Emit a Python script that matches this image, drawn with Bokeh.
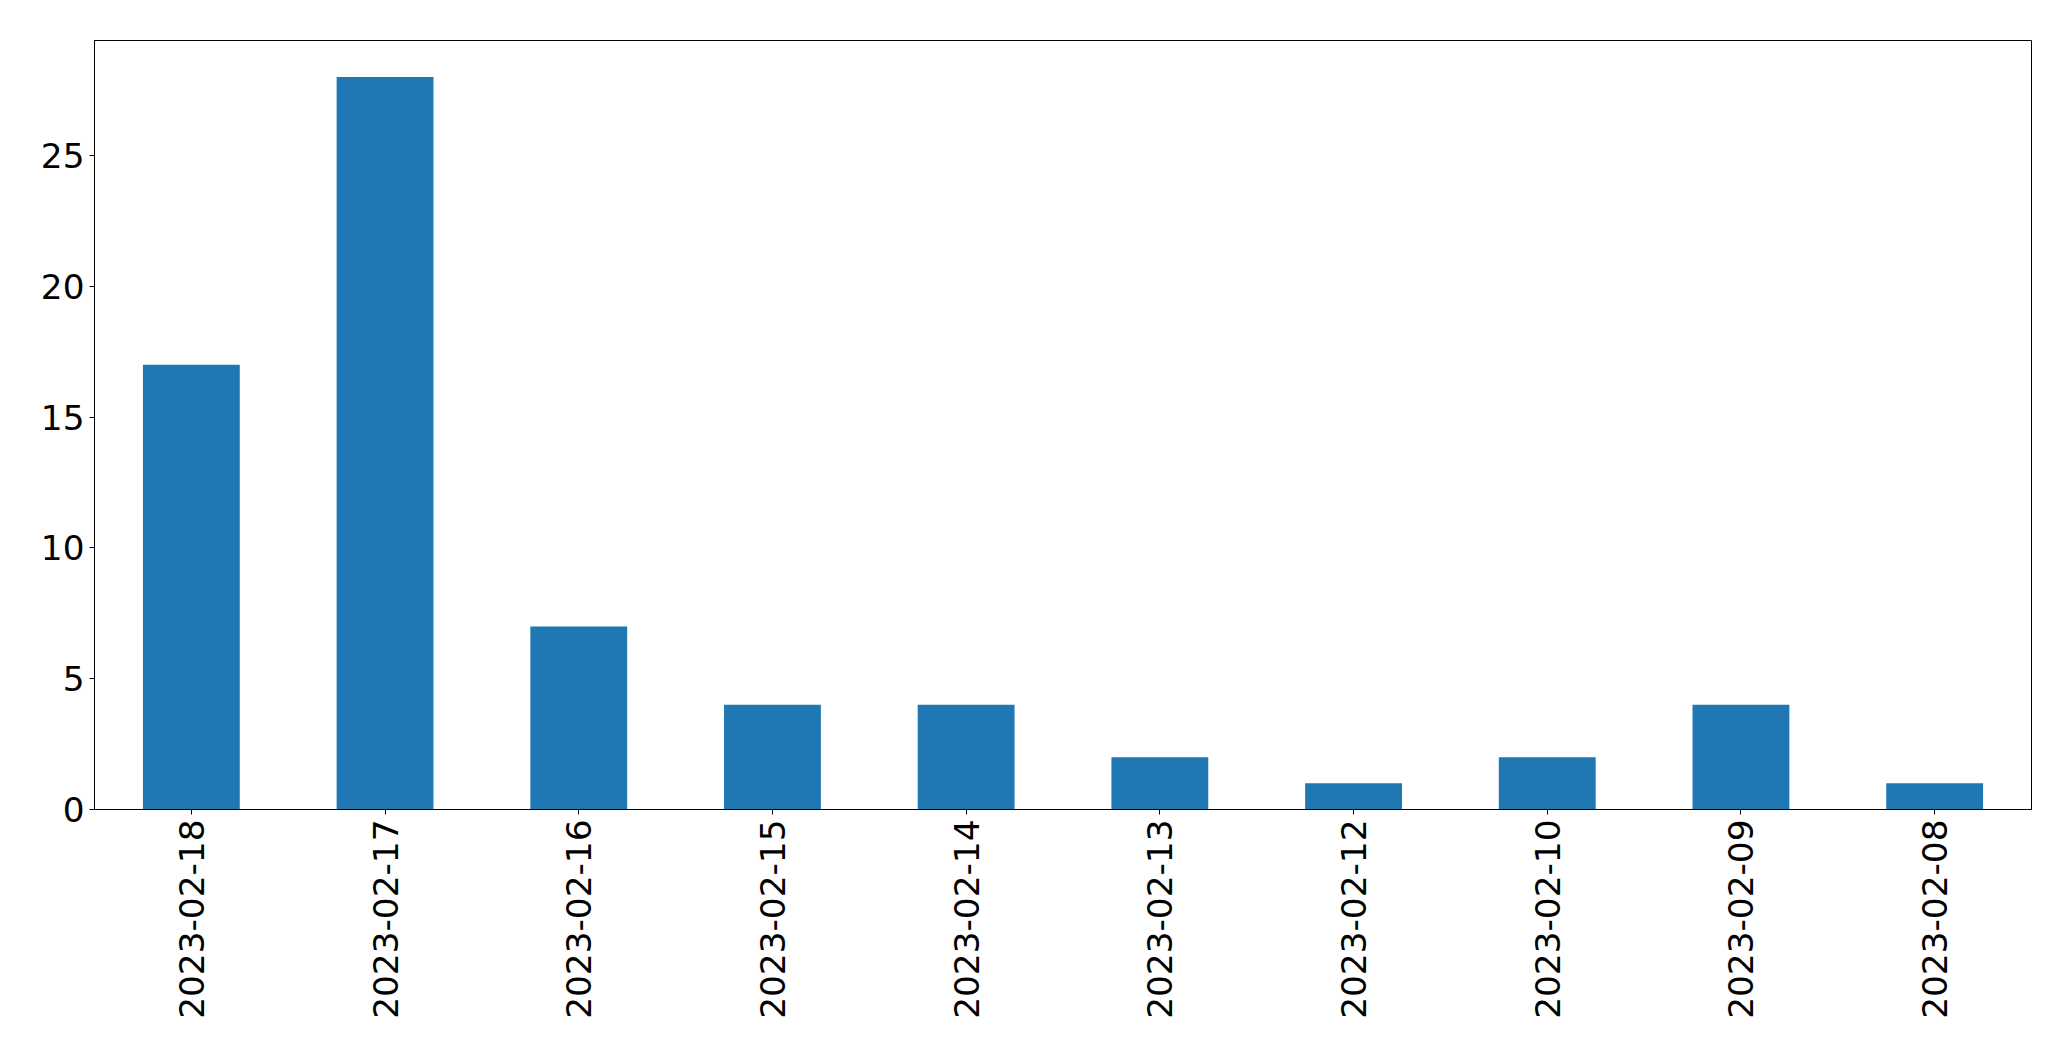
import math
from bokeh.plotting import figure
from bokeh.models import FactorRange, Range1d, FixedTicker, ColumnDataSource
from bokeh.embed import file_html
from bokeh.resources import INLINE

dates = ["2023-02-18", "2023-02-17", "2023-02-16", "2023-02-15", "2023-02-14",
         "2023-02-13", "2023-02-12", "2023-02-10", "2023-02-09", "2023-02-08"]
counts = [17, 28, 7, 4, 4, 2, 1, 2, 4, 1]
y_ticks = [0, 5, 10, 15, 20, 25]

src = ColumnDataSource(dict(date=dates, count=counts))

p = figure(x_range=FactorRange(*dates, range_padding=0),
           y_range=Range1d(0, max(counts) * 1.05),
           frame_width=1937, frame_height=769,
           min_border_left=94, min_border_right=24, min_border_top=40, min_border_bottom=236,
           output_backend="svg", toolbar_location=None)

p.vbar(x="date", top="count", width=0.5, source=src, color="#1f77b4", line_color=None)

p.xgrid.visible = False
p.ygrid.visible = False
p.outline_line_color = "black"
p.outline_line_alpha = 1
p.outline_line_width = 1
p.background_fill_color = "white"
p.border_fill_color = "white"

for ax in (p.xaxis[0], p.yaxis[0]):
    ax.axis_line_color = "black"
    ax.axis_line_width = 1
    ax.major_tick_line_color = "black"
    ax.major_tick_out = 5
    ax.major_tick_in = 0
    ax.minor_tick_line_color = None
    ax.major_label_text_font = "DejaVu Sans"
    ax.major_label_text_font_size = "34.3px"
    ax.major_label_text_color = "black"
    ax.major_label_standoff = 5

p.yaxis[0].ticker = FixedTicker(ticks=y_ticks)
p.xaxis[0].major_label_orientation = math.pi / 2

open("out.html", "w").write(file_html(p, INLINE))
